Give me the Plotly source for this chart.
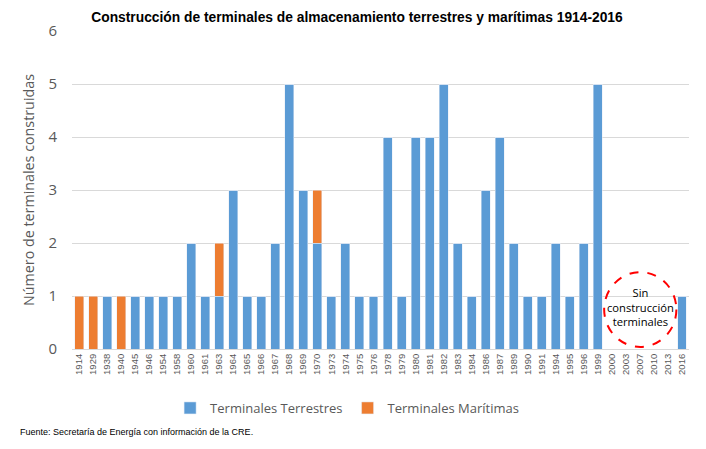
import plotly.graph_objects as go

# Data
years = ['1914', '1929', '1938', '1940', '1945', '1946', '1954', '1958', '1960', '1961',
         '1963', '1964', '1965', '1966', '1967', '1968', '1969', '1970', '1973', '1974',
         '1975', '1976', '1978', '1979', '1980', '1981', '1982', '1983', '1984', '1986',
         '1987', '1989', '1990', '1991', '1994', '1995', '1996', '1999', '2000', '2003',
         '2007', '2010', '2013', '2016']
terrestres = [0, 0, 1, 0, 1, 1, 1, 1, 2, 1,
              1, 3, 1, 1, 2, 5, 3, 2, 1, 2,
              1, 1, 4, 1, 4, 4, 5, 2, 1, 3,
              4, 2, 1, 1, 2, 1, 2, 5, 0, 0,
              0, 0, 0, 1]
maritimas = [1, 1, 0, 1, 0, 0, 0, 0, 0, 0,
             1, 0, 0, 0, 0, 0, 0, 1, 0, 0,
             0, 0, 0, 0, 0, 0, 0, 0, 0, 0,
             0, 0, 0, 0, 0, 0, 0, 0, 0, 0,
             0, 0, 0, 0]

fig = go.Figure([
    go.Bar(name='Terminales Terrestres', x=years, y=terrestres, marker_color='#5b9bd5'),
    go.Bar(name='Terminales Marítimas', x=years, y=maritimas, marker_color='#ed7d31'),
])

# page body has an 8px margin, so the figure is made 8px smaller each way
fig.update_layout(
    width=698, height=441,
    barmode='stack', bargap=0.36,
    plot_bgcolor='white', paper_bgcolor='white',
    margin=dict(l=64, r=17, t=23, b=100, pad=0),
    title=dict(text='<b>Construcción de terminales de almacenamiento terrestres y marítimas 1914-2016</b>',
               x=0.5, xanchor='center', y=0.99, yanchor='top',
               font=dict(family='Liberation Sans, Arial', size=13.8, color='black')),
    legend=dict(orientation='h', x=0.159, xanchor='left',
                y=-0.1855, yanchor='middle',
                font=dict(family='Open Sans, Lato', size=13, color='#595959'),
                itemwidth=30, traceorder='normal'),
    showlegend=True,
)

fig.update_yaxes(range=[0, 6], dtick=1, showgrid=True, gridcolor='#d9d9d9', zeroline=False,
                 tickfont=dict(family='Open Sans, Lato', size=15, color='#595959'),
                 ticklabelstandoff=14,
                 title=dict(text='Número de terminales construidas', standoff=10,
                            font=dict(family='Open Sans, Lato', size=14.3, color='#595959')))
fig.update_xaxes(type='category', tickangle=-90, showline=True, linecolor='#d9d9d9',
                 tickfont=dict(family='Liberation Sans, Arial', size=9.5, color='#595959'))

# dashed circle around the years without construction
fig.add_shape(type='circle', xref='x', yref='y', x0=37.45, x1=42.6, y0=0.04, y1=1.45,
              line=dict(color='red', width=2, dash='dash'), fillcolor='rgba(0,0,0,0)')
fig.add_annotation(x=40.05, y=0.8, xref='x', yref='y', showarrow=False,
                   text='Sin<br>construcción<br>terminales',
                   font=dict(family='Open Sans, Lato', size=11.2, color='black'))

fig.add_annotation(x=-0.087, y=-0.261, xref='paper', yref='paper', xanchor='left', yanchor='middle',
                   showarrow=False, text='Fuente: Secretaría de Energía con información de la CRE.',
                   font=dict(family='Liberation Sans, Arial', size=9, color='black'))

fig.write_html("out.html")
